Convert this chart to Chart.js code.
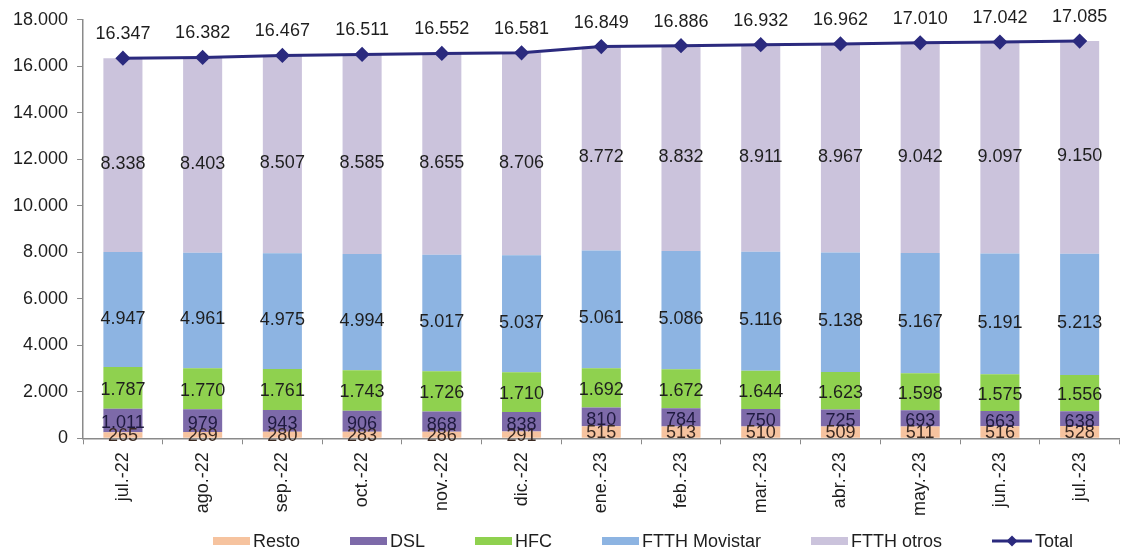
<!DOCTYPE html>
<html lang="es">
<head>
    <meta charset="UTF-8">
    <title>Accesos de banda ancha fija</title>
    <script src="https://cdn.jsdelivr.net/npm/chart.js@4.4.1/dist/chart.umd.min.js"></script>
    <style>
        body { margin: 0; background: #fff; }
        #wrap { width: 1128px; height: 549px; position: relative; }
        #legend {
            position: absolute; left: 213px; top: 531px; height: 20px;
            display: flex; align-items: center; gap: 50px;
            font-family: 'Liberation Sans', Arial, sans-serif; font-size: 18px; color: #1e1e1e;
        }
        #legend .item { display: flex; align-items: center; white-space: nowrap; }
        #legend .box { width: 37px; height: 8px; margin-right: 3px; }
        #legend canvas { margin-right: 3px; }
    </style>
</head>
<body>
<div id="wrap">
    <canvas id="myChart"></canvas>
    <div id="legend"></div>
</div>

<script>
    // Data (miles de accesos)
    const meses = ['jul.-22', 'ago.-22', 'sep.-22', 'oct.-22', 'nov.-22', 'dic.-22',
        'ene.-23', 'feb.-23', 'mar.-23', 'abr.-23', 'may.-23', 'jun.-23', 'jul.-23'];
    const resto = [265, 269, 280, 283, 286, 291, 515, 513, 510, 509, 511, 516, 528];
    const dsl = [1011, 979, 943, 906, 868, 838, 810, 784, 750, 725, 693, 663, 638];
    const hfc = [1787, 1770, 1761, 1743, 1726, 1710, 1692, 1672, 1644, 1623, 1598, 1575, 1556];
    const ftthMovistar = [4947, 4961, 4975, 4994, 5017, 5037, 5061, 5086, 5116, 5138, 5167, 5191, 5213];
    const ftthOtros = [8338, 8403, 8507, 8585, 8655, 8706, 8772, 8832, 8911, 8967, 9042, 9097, 9150];
    const total = [16347, 16382, 16467, 16511, 16552, 16581, 16849, 16886, 16932, 16962, 17010, 17042, 17085];
    const yTicks = [0, 2000, 4000, 6000, 8000, 10000, 12000, 14000, 16000, 18000];

    const FONT = "'Liberation Sans', Arial, sans-serif";
    const LINE_COLOR = '#2b2a7e';

    // 16347 -> "16.347"
    function fmt(n) {
        return String(n).replace(/\B(?=(\d{3})+(?!\d))/g, '.');
    }

    // values written on the bars and above the line
    const valueLabels = {
        id: 'valueLabels',
        afterDatasetsDraw(chart) {
            const ctx = chart.ctx;
            ctx.save();
            ctx.font = '18px ' + FONT;
            ctx.textAlign = 'center';
            ctx.textBaseline = 'middle';
            chart.data.datasets.forEach((ds, i) => {
                const meta = chart.getDatasetMeta(i);
                if (meta.hidden) return;
                meta.data.forEach((el, j) => {
                    const v = ds.data[j];
                    if (ds.type === 'line') {
                        ctx.fillStyle = '#1e1e1e';
                        ctx.fillText(fmt(v), el.x, el.y - 24);
                    } else {
                        const p = el.getProps(['x', 'y', 'base'], true);
                        ctx.fillStyle = ds.labelColor;
                        ctx.fillText(fmt(v), p.x, (p.y + p.base) / 2 + ds.labelShift);
                    }
                });
            });
            ctx.restore();
        }
    };

    function barSet(label, data, color, labelColor, labelShift) {
        return {
            type: 'bar',
            label: label,
            data: data,
            backgroundColor: color,
            labelColor: labelColor,
            labelShift: labelShift,
            stack: 'accesos',
            order: 1,
            barPercentage: 0.49,
            categoryPercentage: 1.0
        };
    }

    const ctx = document.getElementById('myChart');
    const myChart = new Chart(ctx, {
        data: {
            labels: meses,
            datasets: [
                barSet('Resto', resto, '#f6c39f', '#3a2a22', 1),
                barSet('DSL', dsl, '#7d6aa9', '#1f1a40', 3),
                barSet('HFC', hfc, '#8fd14f', '#1e1e1e', 2),
                barSet('FTTH Movistar', ftthMovistar, '#8db4e2', '#1e1e1e', 9),
                barSet('FTTH otros', ftthOtros, '#cbc3dc', '#1e1e1e', 9),
                {
                    type: 'line',
                    label: 'Total',
                    data: total,
                    stack: 'total',
                    order: 0,
                    borderColor: LINE_COLOR,
                    backgroundColor: LINE_COLOR,
                    borderWidth: 3,
                    pointStyle: 'rectRot',
                    pointRadius: 5.5,
                    pointHoverRadius: 5.5,
                    tension: 0
                }
            ]
        },
        plugins: [valueLabels],
        options: {
            responsive: true,
            maintainAspectRatio: false,
            animation: false,
            layout: {
                padding: {left: 4, right: 0, top: 12, bottom: 25}
            },
            scales: {
                x: {
                    stacked: true,
                    offset: true,
                    grid: {
                        display: true,
                        offset: true,
                        drawOnChartArea: false,
                        drawTicks: true,
                        tickLength: 6,
                        color: '#8a8a8a'
                    },
                    border: {color: '#8a8a8a', width: 1.5},
                    ticks: {
                        minRotation: 90,
                        maxRotation: 90,
                        padding: 8,
                        color: '#1e1e1e',
                        font: {family: FONT, size: 18}
                    }
                },
                y: {
                    stacked: true,
                    min: 0,
                    max: 18000,
                    afterBuildTicks(axis) {
                        axis.ticks = yTicks.map(v => ({value: v}));
                    },
                    grid: {
                        display: true,
                        drawOnChartArea: false,
                        drawTicks: true,
                        tickLength: 6,
                        color: '#8a8a8a'
                    },
                    border: {color: '#8a8a8a', width: 1.5},
                    ticks: {
                        padding: 9,
                        color: '#1e1e1e',
                        font: {family: FONT, size: 18},
                        callback: v => fmt(v)
                    }
                }
            },
            plugins: {
                tooltip: {enabled: false},
                legend: {display: false}
            }
        }
    });

    // HTML legend
    const legend = document.getElementById('legend');
    myChart.data.datasets.forEach(ds => {
        const item = document.createElement('div');
        item.className = 'item';
        if (ds.type === 'line') {
            const mk = document.createElement('canvas');
            mk.width = 40;
            mk.height = 12;
            const c = mk.getContext('2d');
            c.strokeStyle = LINE_COLOR;
            c.lineWidth = 3;
            c.beginPath();
            c.moveTo(0, 6);
            c.lineTo(40, 6);
            c.stroke();
            c.fillStyle = LINE_COLOR;
            c.beginPath();
            c.moveTo(20, 0.5);
            c.lineTo(25.5, 6);
            c.lineTo(20, 11.5);
            c.lineTo(14.5, 6);
            c.closePath();
            c.fill();
            item.appendChild(mk);
        } else {
            const box = document.createElement('span');
            box.className = 'box';
            box.style.background = ds.backgroundColor;
            item.appendChild(box);
        }
        const txt = document.createElement('span');
        txt.textContent = ds.label;
        item.appendChild(txt);
        legend.appendChild(item);
    });
</script>
</body>
</html>
